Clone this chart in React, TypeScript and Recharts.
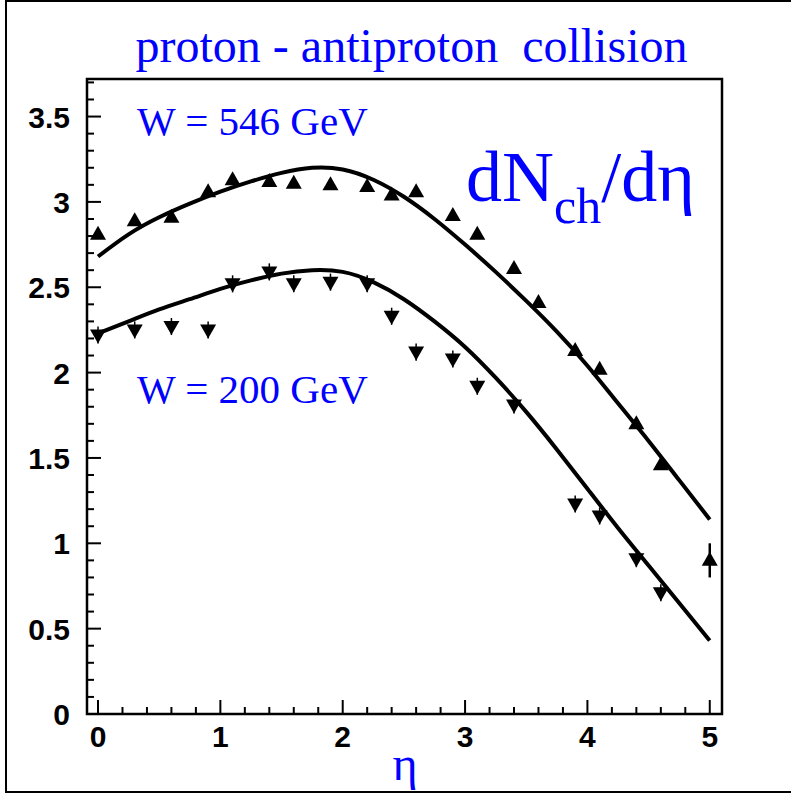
import { ComposedChart, Line, Scatter, XAxis, YAxis, ErrorBar, ReferenceArea } from "recharts";

// measured points, W = 546 GeV (upward triangles)
const eta546 = [0, 0.3, 0.6, 0.9, 1.1, 1.4, 1.6, 1.9, 2.2, 2.4, 2.6, 2.9, 3.1, 3.4, 3.6, 3.9, 4.1, 4.4, 4.6, 5.0];
const val546 = [2.81, 2.89, 2.91, 3.06, 3.13, 3.12, 3.11, 3.1, 3.09, 3.04, 3.06, 2.92, 2.81, 2.61, 2.41, 2.13, 2.02, 1.7, 1.46, 0.9];
const err546 = [0, 0, 0, 0, 0, 0, 0, 0, 0, 0, 0, 0, 0, 0, 0, 0, 0, 0, 0, 0.1];

// measured points, W = 200 GeV (downward triangles)
const eta200 = [0, 0.3, 0.6, 0.9, 1.1, 1.4, 1.6, 1.9, 2.2, 2.4, 2.6, 2.9, 3.1, 3.4, 3.9, 4.1, 4.4, 4.6];
const val200 = [2.22, 2.25, 2.27, 2.25, 2.52, 2.59, 2.52, 2.53, 2.52, 2.33, 2.12, 2.08, 1.92, 1.81, 1.23, 1.16, 0.91, 0.71];
const err200 = [0.05, 0.05, 0.05, 0.05, 0.05, 0.05, 0.05, 0.05, 0.05, 0.05, 0.05, 0.05, 0.05, 0.05, 0.05, 0.05, 0.05, 0.05];

// fit curves
const fitEta = [0, 0.25, 0.5, 0.75, 1, 1.25, 1.5, 1.75, 2, 2.25, 2.5, 2.75, 3, 3.25, 3.5, 3.75, 4, 4.25, 4.5, 4.75, 5];
const fit546 = [2.68, 2.81, 2.91, 2.99, 3.06, 3.12, 3.17, 3.2, 3.19, 3.13, 3.03, 2.9, 2.75, 2.59, 2.42, 2.24, 2.04, 1.82, 1.6, 1.37, 1.14];
const fit200 = [2.23, 2.3, 2.37, 2.43, 2.49, 2.54, 2.58, 2.6, 2.59, 2.53, 2.43, 2.3, 2.15, 1.97, 1.77, 1.55, 1.32, 1.09, 0.87, 0.65, 0.43];

const xTicks = Array.from({ length: 26 }, (_, i) => i / 5);
const yTicks = Array.from({ length: 38 }, (_, i) => i / 10);

const X_MIN = -0.09;
const X_MAX = 5.1;
const Y_MIN = 0;
const Y_MAX = 3.72;

const BLUE = "#0000ff";
const serif = "'Liberation Serif', 'Times New Roman', serif";
const sans = "'Liberation Sans', Arial, sans-serif";

const pts546 = eta546.map((e, i) => ({ eta: e, val: val546[i], err: err546[i] }));
const pts200 = eta200.map((e, i) => ({ eta: e, val: val200[i], err: err200[i] }));
const curve546 = fitEta.map((e, i) => ({ eta: e, val: fit546[i] }));
const curve200 = fitEta.map((e, i) => ({ eta: e, val: fit200[i] }));

const fmt = (v: number) => String(Number(v.toFixed(1)));

const XTick = ({ x, y, payload }: any) => {
  const v = payload.value;
  const major = Math.abs(v - Math.round(v)) < 1e-6;
  return (
    <g>
      <line x1={x} x2={x} y1={y} y2={y - (major ? 14 : 7)} stroke="#000" strokeWidth={2} />
      {major && (
        <text x={x} y={y + 33} textAnchor="middle" fontFamily={sans} fontWeight="bold" fontSize={30} fill="#000">
          {fmt(v)}
        </text>
      )}
    </g>
  );
};

const YTick = ({ x, y, payload }: any) => {
  const v = payload.value;
  const major = Math.abs(v * 2 - Math.round(v * 2)) < 1e-6;
  return (
    <g>
      <line x1={x} x2={x + (major ? 14 : 7)} y1={y} y2={y} stroke="#000" strokeWidth={2} />
      {major && (
        <text x={x - 17} y={y + 11} textAnchor="end" fontFamily={sans} fontWeight="bold" fontSize={30} fill="#000">
          {fmt(v)}
        </text>
      )}
    </g>
  );
};

const UpTri = (p: any) => (
  <polygon points={`${p.cx},${p.cy - 8.5} ${p.cx - 8},${p.cy + 5.5} ${p.cx + 8},${p.cy + 5.5}`} fill="#000" />
);
const DownTri = (p: any) => (
  <polygon points={`${p.cx},${p.cy + 8.5} ${p.cx - 8},${p.cy - 5.5} ${p.cx + 8},${p.cy - 5.5}`} fill="#000" />
);

export default function App() {
  return (
    <div style={{ position: "absolute", left: 0, top: 0, width: 791, height: 794, overflow: "hidden", background: "#fff" }}>
      <ComposedChart width={791} height={794} margin={{ top: 79, right: 69, left: 27, bottom: 40 }}>
        <XAxis
          type="number"
          dataKey="eta"
          domain={[X_MIN, X_MAX]}
          allowDataOverflow
          ticks={xTicks}
          interval={0}
          tick={<XTick />}
          tickLine={false}
          tickSize={0}
          tickMargin={0}
          axisLine={false}
          height={40}
        />
        <YAxis
          type="number"
          dataKey="val"
          domain={[Y_MIN, Y_MAX]}
          allowDataOverflow
          ticks={yTicks}
          interval={0}
          tick={<YTick />}
          tickLine={false}
          tickSize={0}
          tickMargin={0}
          axisLine={false}
          width={60}
        />
        <Line data={curve546} dataKey="val" type="natural" stroke="#000" strokeWidth={4} dot={false} isAnimationActive={false} />
        <Line data={curve200} dataKey="val" type="natural" stroke="#000" strokeWidth={4} dot={false} isAnimationActive={false} />
        <Scatter data={pts546} dataKey="val" shape={<UpTri />} isAnimationActive={false}>
          <ErrorBar dataKey="err" direction="y" width={0} stroke="#000" strokeWidth={2.5} isAnimationActive={false} />
        </Scatter>
        <Scatter data={pts200} dataKey="val" shape={<DownTri />} isAnimationActive={false}>
          <ErrorBar dataKey="err" direction="y" width={0} stroke="#000" strokeWidth={1.5} isAnimationActive={false} />
        </Scatter>
        <ReferenceArea x1={X_MIN} x2={X_MAX} y1={Y_MIN} y2={Y_MAX} fill="none" stroke="#000" strokeWidth={2.5} ifOverflow="visible" />
      </ComposedChart>
      <svg width={791} height={794} style={{ position: "absolute", left: 0, top: 0, pointerEvents: "none" }}>
        <polyline points="791,1 6,1 6,792 791,792" fill="none" stroke="#000" strokeWidth={2} />
        <text x={411.5} y={62} textAnchor="middle" fontFamily={serif} fontSize={48} fill={BLUE}>
          proton - antiproton{"\u00A0"} collision
        </text>
        <text x={137} y={135} fontFamily={serif} fontSize={41} fill={BLUE}>
          W = 546 GeV
        </text>
        <text x={137} y={403} fontFamily={serif} fontSize={41} fill={BLUE}>
          W = 200 GeV
        </text>
        <text x={466} y={201} fontFamily={serif} fontSize={72} fill={BLUE}>
          <tspan>dN</tspan>
          <tspan dy={22} fontSize={50}>ch</tspan>
          <tspan dy={-22}>/dη</tspan>
        </text>
        <text x={405} y={780} textAnchor="middle" fontFamily={serif} fontSize={48} fill={BLUE}>
          η
        </text>
      </svg>
    </div>
  );
}
